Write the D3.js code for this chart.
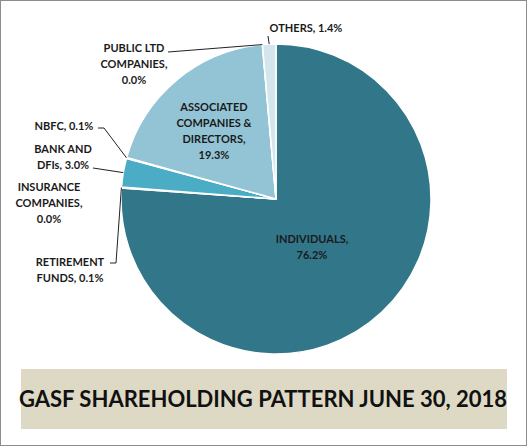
<!DOCTYPE html><html><head><meta charset="utf-8">
<script src="https://cdn.jsdelivr.net/npm/d3@7"></script>
<style>body{margin:0;background:#fff}svg{display:block}</style></head><body>
<svg id="c" width="527" height="446"></svg>
<script>
const categories=["INDIVIDUALS","RETIREMENT FUNDS","INSURANCE COMPANIES","BANK AND DFIs","NBFC","ASSOCIATED COMPANIES & DIRECTORS","PUBLIC LTD COMPANIES","OTHERS"];
const values=[76.2,0.1,0.0,3.0,0.1,19.3,0.0,1.4];
const colors=["#327789","#3a8aa0","#3f97ad","#4aacc5","#6fbcd0","#93c4d5","#b8d9e4","#d3e6ed"];
const svg=d3.select("#c");
svg.append("rect").attr("x",0.5).attr("y",0.5).attr("width",526).attr("height",445).attr("fill","#fff").attr("stroke","#8c8c8c");
const cx=276,cy=199,r=155;
const pie=d3.pie().sort(null).value(d=>d.v);
const data=pie(categories.map((c,i)=>({c,v:values[i],col:colors[i]})));
const arc=d3.arc().innerRadius(0).outerRadius(r);
const g=svg.append("g").attr("transform",`translate(${cx},${cy})`);
g.selectAll("path").data(data).join("path").attr("d",arc).attr("fill",d=>d.data.col).attr("stroke","#fff").attr("stroke-width",1.5);
const font="Lato, 'Open Sans', sans-serif";
function label(lines,x,y,anchor,size){
  const t=svg.append("text").attr("x",x).attr("y",y).attr("text-anchor",anchor||"middle").attr("font-family",font).attr("font-weight","bold").attr("font-size",size||11).attr("fill","#1a1a1a");
  lines.forEach((l,i)=>t.append("tspan").attr("x",x).attr("dy",i?16:0).text(l));
}
const pt=(i,rr)=>{const a=(data[i].startAngle+data[i].endAngle)/2;return [cx+rr*Math.sin(a),cy-rr*Math.cos(a)];};
function line(pts){svg.append("path").attr("d",d3.line()(pts)).attr("fill","none").attr("stroke","#222").attr("stroke-width",1);}
label(["INDIVIDUALS,",values[0].toFixed(1)+"%"],312,243);
label(["ASSOCIATED","COMPANIES  &","DIRECTORS,",values[5].toFixed(1)+"%"],214,111);
label(["OTHERS,  "+values[7].toFixed(1)+"%"],306,32);
line([pt(7,r),[268,36]]);
label(["PUBLIC  LTD","COMPANIES,",values[6].toFixed(1)+"%"],134,52);
line([[168,52],pt(6,r)]);
label(["NBFC, "+values[4].toFixed(1)+"%"],64,130);
line([[98,128],[104,128],pt(4,r)]);
label(["BANK AND","DFIs,  "+values[3].toFixed(1)+"%"],63,153);
line([[93,168],pt(3,r)]);
label(["INSURANCE","COMPANIES,",values[2].toFixed(1)+"%"],49,191);
label(["RETIREMENT","FUNDS,  "+values[1].toFixed(1)+"%"],70,266);
line([[110,263],[116,263],pt(1,r)]);
svg.append("rect").attr("x",21).attr("y",369).attr("width",486).attr("height",60).attr("fill","#ddd9c4");
svg.append("text").attr("x",263).attr("y",407).attr("text-anchor","middle").attr("font-family",font).attr("font-weight","bold").attr("font-size",22).attr("fill","#111").text("GASF SHAREHOLDING PATTERN  JUNE 30, 2018");
</script></body></html>
